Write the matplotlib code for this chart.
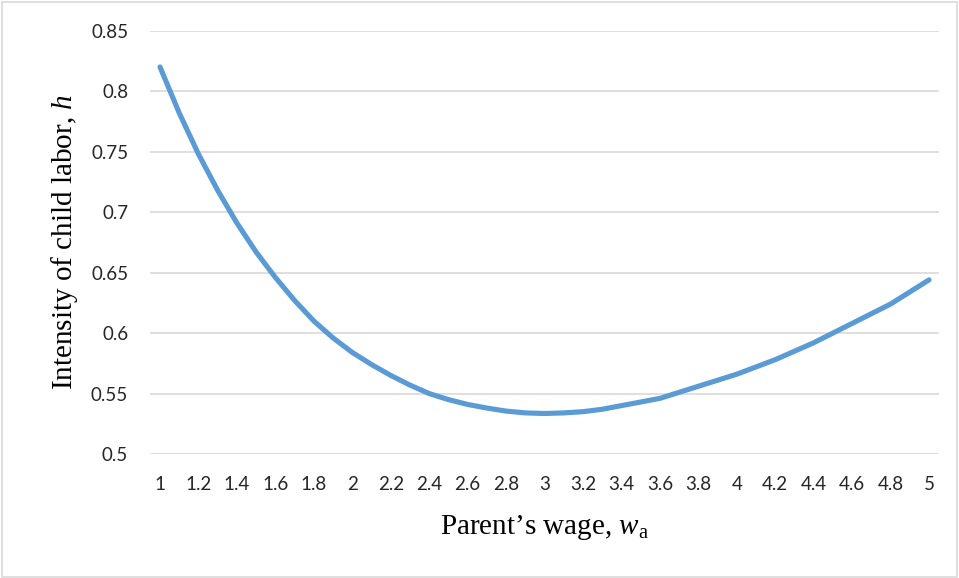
import numpy as np
import matplotlib.pyplot as plt
from matplotlib.patches import Rectangle

# datos
wage = [1.0, 1.1, 1.2, 1.3, 1.4, 1.5, 1.6, 1.7, 1.8, 1.9,
        2.0, 2.1, 2.2, 2.3, 2.4, 2.5, 2.6, 2.7, 2.8, 2.9,
        3.0, 3.1, 3.2, 3.3, 3.4, 3.5, 3.6, 3.7, 3.8, 3.9,
        4.0, 4.1, 4.2, 4.3, 4.4, 4.5, 4.6, 4.7, 4.8, 4.9, 5.0]
intensity = [0.820, 0.782, 0.748, 0.718, 0.691, 0.667, 0.646, 0.627, 0.610, 0.596,
             0.584, 0.574, 0.565, 0.557, 0.550, 0.545, 0.541, 0.538, 0.5355, 0.534,
             0.5335, 0.534, 0.535, 0.537, 0.540, 0.543, 0.546, 0.551, 0.556, 0.561,
             0.566, 0.572, 0.578, 0.585, 0.592, 0.600, 0.608, 0.616, 0.624, 0.634, 0.644]
xticks = [1.0, 1.2, 1.4, 1.6, 1.8, 2.0, 2.2, 2.4, 2.6, 2.8, 3.0,
          3.2, 3.4, 3.6, 3.8, 4.0, 4.2, 4.4, 4.6, 4.8, 5.0]
yticks = [0.5, 0.55, 0.6, 0.65, 0.7, 0.75, 0.8, 0.85]

plt.rcParams['mathtext.fontset'] = 'custom'
plt.rcParams['mathtext.rm'] = 'Liberation Serif'
plt.rcParams['mathtext.it'] = 'Liberation Serif:italic'

fig = plt.figure(figsize=(9.59, 5.78), dpi=100)
ax = fig.add_axes([0.1568, 0.2145, 0.822, 0.7324])

ax.plot(wage, intensity, color='#5B9BD5', linewidth=3.7, solid_capstyle='round', zorder=3)

ax.set_xlim(0.95, 5.05)
ax.set_ylim(0.5, 0.85)
ax.set_xticks(xticks)
ax.set_xticklabels(['%g' % t for t in xticks])
ax.set_yticks(yticks)
ax.set_yticklabels(['%g' % t for t in yticks])
ax.grid(axis='y', color='#D9D9D9', linewidth=1.2)
ax.set_axisbelow(True)
for s in ax.spines.values():
    s.set_visible(False)
ax.tick_params(length=0, labelsize=13.5, colors='#262626')
ax.tick_params(axis='y', pad=16)
ax.tick_params(axis='x', pad=16)
for lab in ax.get_xticklabels() + ax.get_yticklabels():
    lab.set_fontfamily('Lato')

ax.set_xlabel(r'Parent’s wage, $w_{\mathrm{a}}$', fontfamily='Liberation Serif',
              fontsize=21, labelpad=14)
ax.set_ylabel(r'Intensity of child labor, $h$', fontfamily='Liberation Serif',
              fontsize=21, labelpad=8)

# borde del area del grafico
fig.patches.append(Rectangle((0.002, 0.002), 0.996, 0.994, transform=fig.transFigure,
                             fill=False, edgecolor='#D9D9D9', linewidth=1.2))

fig.savefig('out.png', dpi=100)
